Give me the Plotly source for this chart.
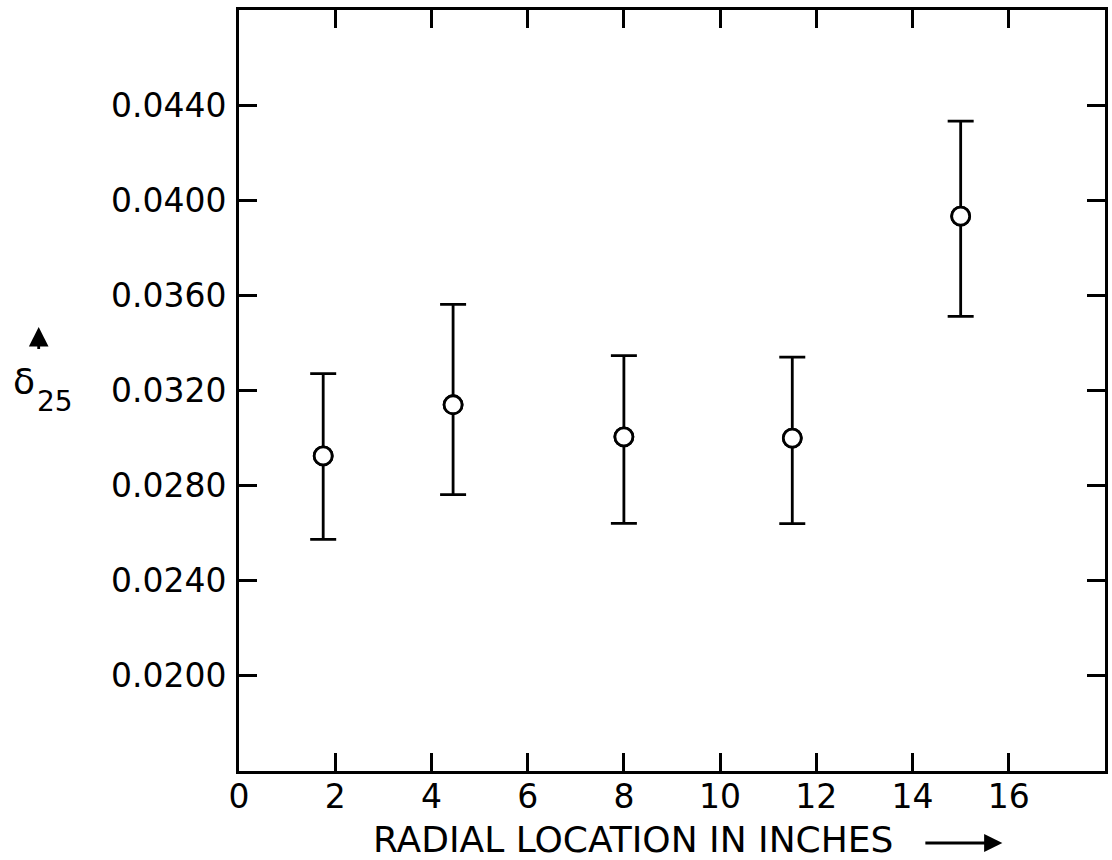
import plotly.graph_objects as go

# Data
radial_in = [1.75, 4.45, 8.0, 11.5, 15.0]
delta25 = [0.02925, 0.03140, 0.03005, 0.03000, 0.03933]
err_upper = [0.03271, 0.03562, 0.03347, 0.03340, 0.04333]
err_lower = [0.02574, 0.02762, 0.02641, 0.02640, 0.03512]

x_ticks = [0, 2, 4, 6, 8, 10, 12, 14, 16]
y_ticks = [0.0200, 0.0240, 0.0280, 0.0320, 0.0360, 0.0400, 0.0440]
y_ticklabels = ["0.0200", "0.0240", "0.0280", "0.0320", "0.0360", "0.0400", "0.0440"]

plus = [u - v for u, v in zip(err_upper, delta25)]
minus = [v - l for v, l in zip(delta25, err_lower)]

FONT = "DejaVu Sans"
INK = "black"

L, R, T, B = 239, 4, 10, 89
W, H = 1112, 860
PW, PH = W - L - R, H - T - B


def px(xp):
    return (xp - L) / PW


def py(yp):
    return (H - B - yp) / PH


fig = go.Figure()
fig.add_trace(go.Scatter(
    x=radial_in, y=delta25, mode="markers",
    marker=dict(symbol="circle", size=18, color="white",
                line=dict(color=INK, width=2.8)),
    error_y=dict(type="data", symmetric=False, array=plus, arrayminus=minus,
                 color=INK, thickness=2.8, width=13),
    showlegend=False,
))
fig.add_trace(go.Scatter(
    x=radial_in, y=delta25, mode="markers",
    marker=dict(symbol="circle", size=18, color="white",
                line=dict(color=INK, width=2.8)),
    showlegend=False, hoverinfo="skip",
))

axis_common = dict(
    showline=True, linecolor=INK, linewidth=2.8, mirror="ticks",
    ticks="inside", ticklen=18, tickwidth=2.8, tickcolor=INK,
    showgrid=False, zeroline=False,
    tickfont=dict(family=FONT, size=33, color=INK),
)

fig.update_xaxes(range=[0, 18], tickvals=x_ticks,
                 ticktext=[str(t) for t in x_ticks], ticklabelstandoff=-6,
                 **axis_common)
fig.update_yaxes(range=[0.016, 0.048], tickvals=y_ticks, ticktext=y_ticklabels,
                 ticklabelstandoff=3, **axis_common)

annots = [
    dict(text="RADIAL LOCATION IN INCHES", x=px(634), y=py(839), xref="paper",
         yref="paper", showarrow=False, xanchor="center", yanchor="middle",
         font=dict(family=FONT, size=36, color=INK)),
    dict(text=" ", x=px(1005), y=py(843), xref="paper", yref="paper",
         showarrow=True, ax=-80, ay=0, arrowhead=2, arrowsize=1.3,
         arrowwidth=2.8, arrowcolor=INK),
    dict(text="δ", x=px(23), y=py(381), xref="paper",
         yref="paper", showarrow=False, xanchor="center", yanchor="middle",
         font=dict(family=FONT, size=36, color=INK)),
    dict(text="25", x=px(54), y=py(401), xref="paper",
         yref="paper", showarrow=False, xanchor="center", yanchor="middle",
         font=dict(family=FONT, size=28, color=INK)),
    dict(text=" ", x=px(38), y=py(327), xref="paper",
         yref="paper", showarrow=True, ax=0, ay=32, arrowhead=2,
         arrowsize=1.4, arrowwidth=2.8, arrowcolor=INK),
]

fig.update_layout(
    width=W, height=H,
    margin=dict(l=L, r=R, t=T, b=B),
    paper_bgcolor="white", plot_bgcolor="white",
    annotations=annots,
)

fig.write_html("out.html", config={"displayModeBar": False},
               post_script="document.body.style.margin='0px';")
